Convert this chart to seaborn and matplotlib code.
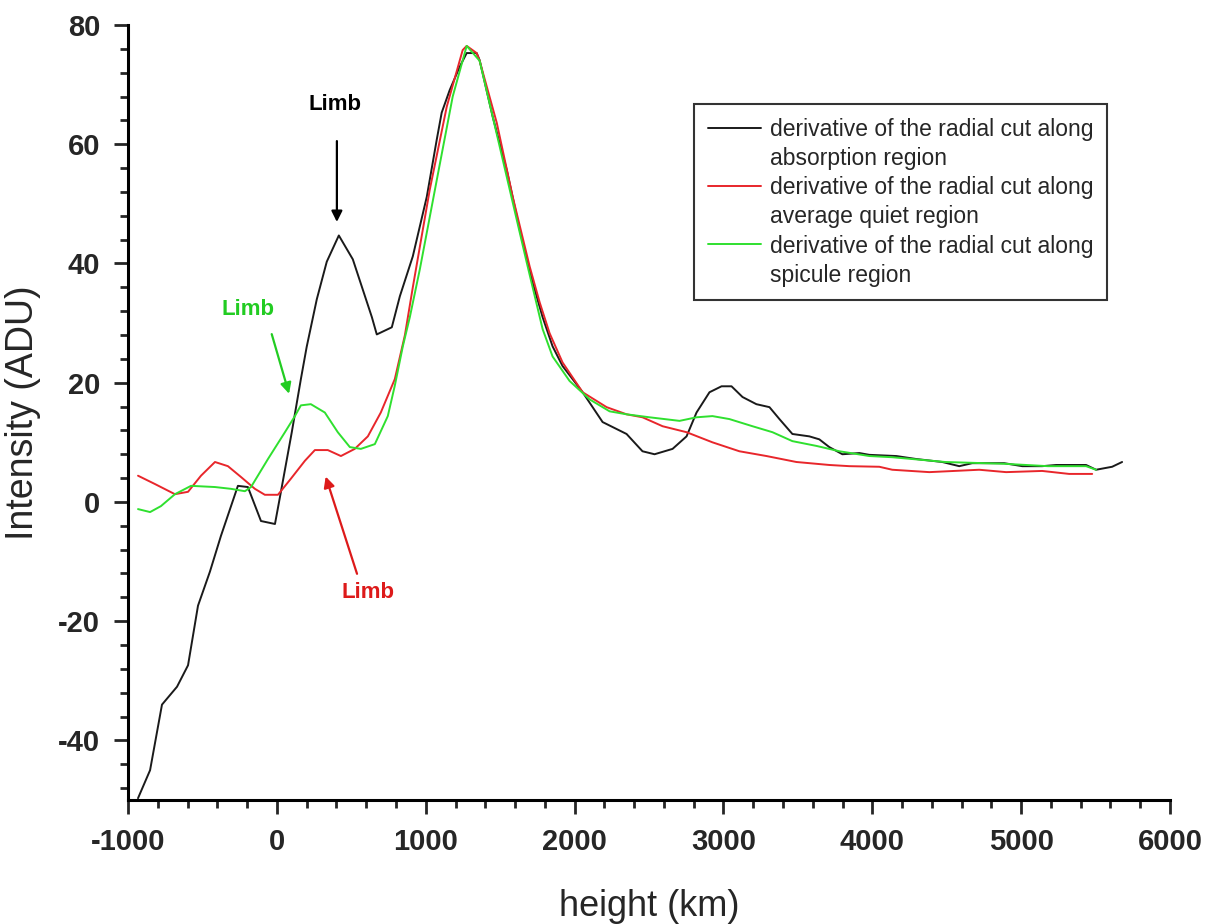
import numpy as np
import pandas as pd
import seaborn as sns
import matplotlib.pyplot as plt
from matplotlib.lines import Line2D
from matplotlib.ticker import MultipleLocator

# derivative of the radial cut along absorption region (black)
abs_x = [-933, -852, -772, -671, -597, -530, -450, -376, -262, -195, -107, -13, 27, 100, 161,
         200, 268, 335, 416, 510, 638, 671, 772, 826, 913, 1007, 1074, 1107, 1161, 1228, 1275,
         1342, 1362, 1450, 1544, 1631, 1718, 1785, 1852, 1919, 2054, 2188, 2349, 2456, 2537,
         2658, 2752, 2819, 2906, 2987, 3054, 3128, 3221, 3309, 3376, 3463, 3577, 3644, 3711,
         3799, 3913, 3980, 4161, 4295, 4470, 4584, 4671, 4886, 5007, 5141, 5235, 5436, 5503,
         5611, 5678]
abs_y = [-49.7, -45, -34, -31, -27.4, -17.4, -11.7, -5.7, 2.7, 2.5, -3.2, -3.7, 1.7, 11.7, 20.6,
         26, 34, 40.3, 44.7, 40.7, 31, 28.1, 29.3, 34.5, 41.2, 51.2, 60.8, 65.3, 69.1, 73, 75.3,
         75.3, 74.1, 64.6, 55.7, 45.7, 36.8, 31, 26.1, 22.8, 18.4, 13.4, 11.4, 8.5, 8,
         8.9, 11, 15, 18.4, 19.4, 19.4, 17.6, 16.4, 15.9, 13.9, 11.4, 11, 10.5, 9.2,
         8, 8.2, 7.9, 7.7, 7.2, 6.7, 6, 6.5, 6.5, 6, 6, 6.2, 6.2, 5.4,
         5.9, 6.7]

# average quiet region (red)
quiet_x = [-933, -819, -685, -597, -510, -416, -329, -242, -148, -81, 7, 94, 188, 255, 342, 430,
           523, 611, 698, 792, 860, 913, 1027, 1141, 1248, 1275, 1342, 1362, 1477, 1584, 1698,
           1765, 1832, 1919, 2054, 2215, 2349, 2456, 2591, 2752, 2926, 3107, 3289, 3490, 3711,
           3846, 4047, 4134, 4383, 4718, 4899, 5141, 5322, 5477]
quiet_y = [4.4, 3, 1.3, 1.7, 4.4, 6.7, 6, 4.2, 2.2, 1.2, 1.2, 3.9, 6.9, 8.7, 8.7, 7.7,
           8.9, 11, 15, 20.6, 28, 36, 52.4, 66.3, 75.8, 76.5, 75.3, 74, 63.6, 51.2, 39.5,
           33.5, 28.3, 23.4, 18.4, 15.9, 14.7, 14.2, 12.7, 11.7, 10, 8.5, 7.7, 6.7, 6.2,
           6, 5.9, 5.4, 5.0, 5.4, 5.0, 5.2, 4.7, 4.7]

# spicule region (green)
spic_x = [-933, -852, -779, -685, -577, -416, -309, -215, -174, -60, 54, 121, 161, 228, 322,
          409, 490, 564, 658, 745, 792, 846, 893, 960, 1074, 1181, 1275, 1362, 1450, 1564,
          1678, 1785, 1852, 1966, 2101, 2235, 2349, 2503, 2705, 2819, 2926, 3040, 3195, 3329,
          3463, 3624, 3779, 3980, 4134, 4490, 4886, 5180, 5436, 5503]
spic_y = [-1.2, -1.7, -0.7, 1.3, 2.7, 2.5, 2.2, 1.8, 2.5, 7.2, 11.7, 14.4, 16.2, 16.4, 15,
          11.7, 9.2, 8.9, 9.7, 14.4, 19.5, 26.1, 31, 39, 54, 68, 76.5, 74, 64.6, 52.4,
          40.2, 29, 24.4, 20.3, 17.2, 15.2, 14.7, 14.2, 13.6, 14.2, 14.4, 13.9, 12.7, 11.7,
          10.2, 9.4, 8.5, 7.7, 7.5, 6.7, 6.4, 6, 6, 5.4]

label_head = "derivative of the radial cut along"
regions = ["absorption region", "average quiet region", "spicule region"]
colors = ["#1a1a1a", "#e8262b", "#2fe02f"]

sns.set_style("ticks")
plt.rcParams['font.family'] = ['Liberation Sans', 'DejaVu Sans']
plt.rcParams['axes.unicode_minus'] = False

fig = plt.figure(figsize=(12.16, 9.24), dpi=100)
ax = fig.add_axes([0.1053, 0.1342, 0.8569, 0.8387])

series = [(abs_x, abs_y), (quiet_x, quiet_y), (spic_x, spic_y)]
for (xs, ys), reg, col in zip(series, regions, colors):
    df = pd.DataFrame({"height": xs, "intensity": ys})
    sns.lineplot(data=df, x="height", y="intensity", ax=ax, color=col,
                 label=label_head + " " + reg, sort=False, estimator=None, lw=1.4)

ax.set_xlim(-1000, 6000)
ax.set_ylim(-50, 80)
ax.xaxis.set_major_locator(MultipleLocator(1000))
ax.xaxis.set_minor_locator(MultipleLocator(200))
ax.yaxis.set_major_locator(MultipleLocator(20))
ax.yaxis.set_minor_locator(MultipleLocator(4))

sns.despine(ax=ax)
for s in ["left", "bottom"]:
    ax.spines[s].set_linewidth(2.2)
    ax.spines[s].set_color("black")
ax.tick_params(which="major", length=10, width=2, direction="out", labelsize=21, pad=10)
ax.tick_params(which="minor", length=6, width=2, direction="out")
for t in ax.get_xticklabels() + ax.get_yticklabels():
    t.set_fontweight("bold")

ax.set_xlabel("height (km)", fontsize=26, labelpad=24)
ax.set_ylabel("Intensity (ADU)", fontsize=27, labelpad=12)

# Limb annotations
arrow = dict(arrowstyle="-|>", lw=1.6, mutation_scale=16)
ax.annotate("", xy=(403, 46.5), xytext=(403, 61), arrowprops={**arrow, "color": "black"})
ax.text(389, 66.6, "Limb", color="black", fontsize=16, fontweight="bold", ha="center", va="center")
ax.annotate("", xy=(87, 17.7), xytext=(-40, 28.6), arrowprops={**arrow, "color": "#22cc22"})
ax.text(-195, 32.3, "Limb", color="#22cc22", fontsize=16, fontweight="bold", ha="center", va="center")
ax.annotate("", xy=(322, 4.7), xytext=(544, -12.5), arrowprops={**arrow, "color": "#dd1a1a"})
ax.text(611, -15.2, "Limb", color="#dd1a1a", fontsize=16, fontweight="bold", ha="center", va="center")

# legend: handle on the first line of each two-line entry
handles, _ = ax.get_legend_handles_labels()
blank = Line2D([], [], color="none")
leg_handles, leg_labels = [], []
for h, reg in zip(handles, regions):
    leg_handles += [h, blank]
    leg_labels += [label_head, reg]

leg = ax.legend(leg_handles, leg_labels, loc="upper right",
                bbox_to_anchor=(1107 / 1216, 1 - 104 / 924),
                bbox_transform=fig.transFigure, fontsize=16.5, handlelength=2.3,
                fancybox=False, framealpha=1, borderpad=0.6, labelspacing=0.27,
                handletextpad=0.4, borderaxespad=0)
leg.get_frame().set_edgecolor("#333333")
leg.get_frame().set_linewidth(1.5)

fig.savefig("out.png", dpi=100)
